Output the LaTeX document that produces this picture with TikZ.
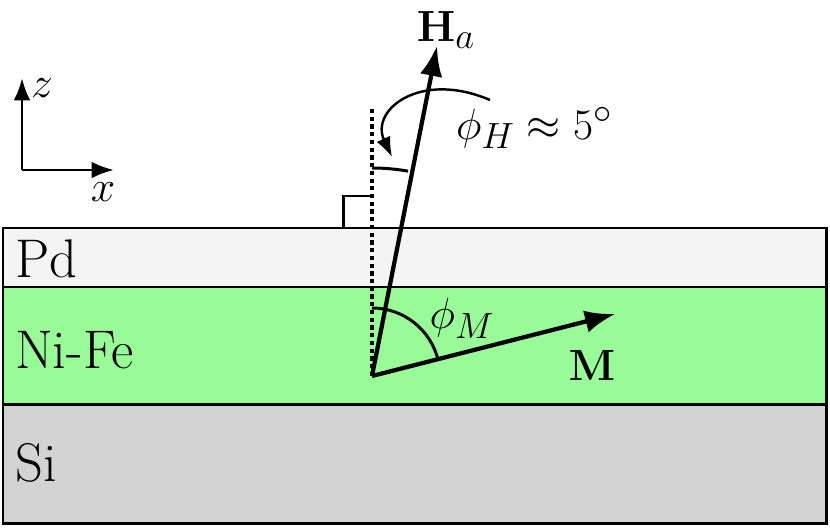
\documentclass[tikz,border=0pt]{standalone}
\usepackage{amsmath}
\definecolor{pdgray}{RGB}{244,244,244}
\definecolor{nife}{RGB}{152,251,152}
\definecolor{sigray}{RGB}{211,211,211}
\tikzset{
  layer/.style={draw, line width=1.7pt},
  vec/.style={line width=2.4pt, -{Latex[length=6mm,width=4.5mm]}},
  lbl/.style={font=\fontsize{31}{35}\selectfont}
}
\usetikzlibrary{arrows.meta}
\begin{document}
\begin{tikzpicture}[x=0.02cm,y=-0.02cm]
				\useasboundingbox (0,0) rectangle (830,527);
				\draw[layer, fill=pdgray] (3,228) rectangle (826,287);
				\draw[layer, fill=nife] (3,287) rectangle (826,404);
				\draw[layer, fill=sigray] (3,404) rectangle (826,523);
				\node[lbl, anchor=west] (pd) at (9,259) {Pd};
				\node[lbl, anchor=west] (nf) at (9,350) {Ni-Fe};
				\node[lbl, anchor=west] (si) at (9,463) {Si};
				
				\coordinate (o) at (372,376);
				\coordinate (top) at (372,108);
				\draw[line width=2.4pt, dotted] (o) -- (top);
				\draw[line width=1.7pt] (343,228) -- (343,196) -- (372,196);
				\draw[vec] (o) -- (437,46) coordinate (h);
				\draw[vec] (o) -- (615,314) coordinate (m);
				\node[lbl] (hl) at (446,30) {$\mathbf{H}_a$};
				\node[lbl] (ml) at (592,365) {$\mathbf{M}$};
				
				\draw[line width=1.7pt] (372,308) arc (-90:-13.5:68);
				\node[lbl] (pm) at (462,318) {$\phi_M$};
				\draw[line width=1.7pt] (372,168) arc (-90:-80:208);
				\draw[line width=1.4pt, -{Latex[length=4mm]}] (490,100) .. controls (420,70) and (370,110) .. (392,157);
				\node[lbl, anchor=west] (ph) at (450,128) {$\phi_H \approx 5^\circ$};
				
				\coordinate (ax) at (22,170);
				\draw[line width=1.7pt, -{Latex[length=4.5mm]}] (ax) -- (22,78);
				\draw[line width=1.7pt, -{Latex[length=4.5mm]}] (ax) -- (114,170);
				\node[lbl] (zl) at (42,88) {$z$};
				\node[lbl] (xl) at (103,192) {$x$};
			\end{tikzpicture}
\end{document}
